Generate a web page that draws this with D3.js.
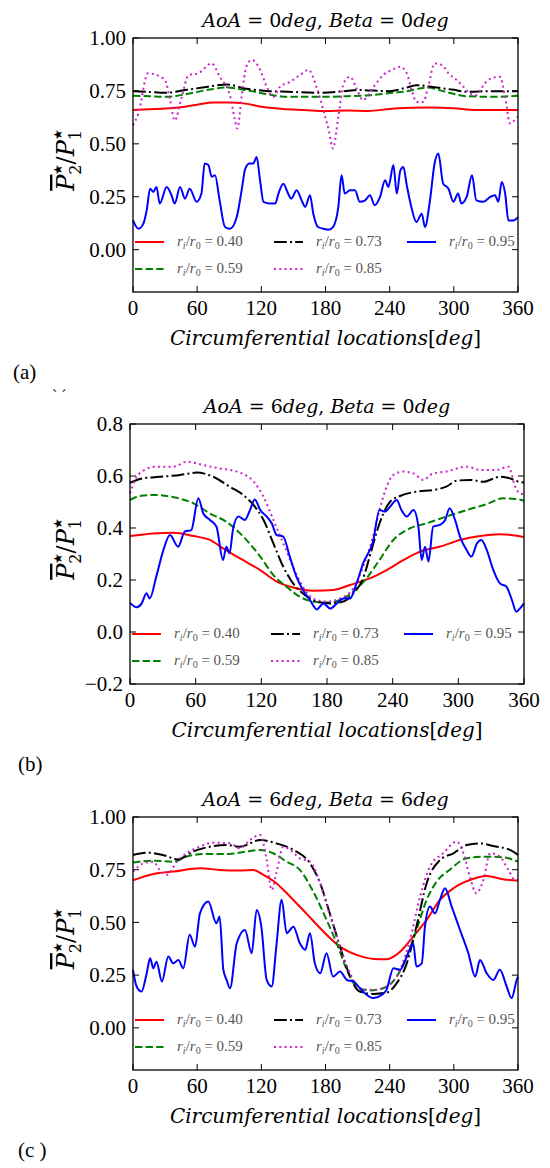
<!DOCTYPE html>
<html>
<head>
<meta charset="utf-8">
<script src="https://cdn.jsdelivr.net/npm/d3@7"></script>
<style>
body { margin: 0; background: #fff; }
</style>
</head>
<body>
<svg id="chart" width="550" height="1168"></svg>
<script>
// circumferential locations on the x axis
let xTicks = [0, 60, 120, 180, 240, 300, 360]
let ratios = ["0.40", "0.59", "0.73", "0.85", "0.95"]
let titlesAoA = ["0", "6", "6"]
let titlesBeta = ["0", "0", "6"]
let panelNames = ["(a)", "(b)", "(c )"]
let yTicksA = [0, 0.25, 0.5, 0.75, 1.0]
let yTickLabelsA = ["0.00", "0.25", "0.50", "0.75", "1.00"]
let yTicksB = [-0.2, 0, 0.2, 0.4, 0.6, 0.8]
let yTickLabelsB = ["\u22120.2", "0.0", "0.2", "0.4", "0.6", "0.8"]

// panel (a) AoA=0, Beta=0 : [deg, P2/P1]
let a040 = [[0,0.66],[20,0.665],[40,0.67],[60,0.685],[75,0.695],[90,0.695],[105,0.69],[120,0.675],[140,0.665],[160,0.66],[180,0.655],[200,0.658],[220,0.655],[240,0.665],[260,0.67],[280,0.672],[300,0.668],[320,0.66],[340,0.66],[360,0.66]]
let a059 = [[0,0.727],[15,0.725],[30,0.722],[50,0.735],[70,0.755],[88,0.766],[105,0.754],[125,0.735],[145,0.722],[175,0.722],[200,0.725],[222,0.73],[240,0.74],[253,0.746],[275,0.766],[293,0.745],[312,0.725],[335,0.722],[360,0.727]]
let a073 = [[0,0.749],[15,0.745],[30,0.741],[50,0.755],[70,0.77],[88,0.78],[106,0.76],[125,0.75],[145,0.746],[175,0.741],[200,0.75],[210,0.754],[240,0.749],[255,0.765],[265,0.777],[284,0.766],[300,0.755],[312,0.746],[335,0.749],[360,0.749]]
let a085 = [[0,0.588],[5,0.643],[14,0.833],[22,0.825],[30,0.80],[35,0.70],[39,0.61],[45.5,0.72],[52,0.825],[61,0.833],[73.5,0.88],[81,0.817],[91,0.722],[95,0.62],[97.5,0.572],[101.6,0.722],[106,0.864],[111,0.896],[119,0.849],[125,0.77],[131,0.722],[137.5,0.77],[147,0.793],[156,0.825],[164,0.849],[172,0.762],[178,0.659],[183,0.565],[187,0.478],[192,0.628],[197,0.786],[203,0.817],[209,0.762],[215,0.707],[225,0.77],[234,0.825],[242,0.849],[250,0.864],[256,0.833],[261,0.746],[265,0.698],[271.5,0.698],[276,0.77],[282,0.88],[289,0.872],[295,0.833],[303,0.80],[309,0.77],[315,0.738],[321,0.73],[329,0.786],[335,0.809],[343,0.817],[348,0.722],[352.5,0.596],[359,0.628]]
let a095 = [[0,0.138],[5,0.099],[9.7,0.123],[12.8,0.186],[16,0.288],[19,0.273],[22,0.296],[25,0.218],[31.5,0.296],[36,0.257],[39,0.218],[44,0.296],[48.6,0.241],[53,0.288],[59.5,0.226],[64,0.265],[67,0.407],[70.5,0.40],[73.6,0.344],[76.7,0.352],[81,0.233],[86,0.107],[90.7,0.099],[97,0.154],[101.6,0.281],[105,0.383],[109,0.407],[112.5,0.407],[115.6,0.438],[118.8,0.328],[122,0.226],[128,0.218],[133,0.218],[136,0.265],[140.6,0.312],[145,0.265],[148,0.241],[153,0.281],[157.7,0.233],[161,0.202],[165.5,0.257],[168.6,0.17],[173,0.107],[178,0.099],[182.7,0.094],[187,0.107],[192,0.202],[195,0.352],[198,0.265],[203,0.281],[207.6,0.281],[212,0.226],[217,0.233],[221.6,0.257],[226,0.21],[231,0.249],[235.7,0.328],[238.8,0.296],[243.5,0.40],[246.6,0.265],[250,0.375],[252.8,0.391],[256,0.304],[260.6,0.194],[265,0.131],[270,0.17],[273,0.107],[277.7,0.233],[282,0.407],[285.5,0.454],[290,0.312],[295,0.288],[299.6,0.226],[304,0.265],[307,0.218],[312,0.249],[317,0.352],[321,0.233],[327.6,0.226],[334,0.249],[338.5,0.257],[341.6,0.226],[344.8,0.32],[348,0.265],[351,0.138],[355.7,0.138],[360,0.154]]

// panel (b) AoA=6, Beta=0
let b040 = [[0,0.369],[21,0.379],[40,0.382],[58,0.369],[73,0.354],[85,0.322],[100.5,0.283],[119,0.238],[134,0.194],[149,0.171],[167.5,0.159],[186,0.162],[201,0.181],[219,0.206],[234.5,0.238],[250,0.277],[265,0.309],[283,0.328],[301.5,0.354],[320,0.369],[338,0.376],[355,0.369],[360,0.365]]
let b059 = [[0,0.508],[9,0.523],[21,0.527],[40,0.518],[58,0.495],[73,0.456],[88,0.424],[103.5,0.367],[119,0.29],[131,0.219],[143,0.174],[155,0.136],[167.5,0.117],[180,0.113],[192,0.123],[204,0.155],[216,0.206],[228,0.277],[240.6,0.354],[256,0.399],[271,0.418],[289,0.444],[307.6,0.469],[326,0.492],[341,0.514],[355,0.51],[360,0.505]]
let b073 = [[0,0.574],[12,0.591],[27,0.597],[46,0.604],[61,0.613],[76,0.597],[91,0.559],[103.5,0.527],[113,0.488],[122,0.431],[131,0.341],[140,0.251],[149,0.187],[160,0.142],[170.6,0.117],[183,0.11],[195,0.117],[204,0.149],[213,0.206],[219,0.29],[225,0.379],[231.5,0.456],[237.6,0.501],[246.7,0.523],[262,0.54],[277,0.546],[289,0.559],[298.5,0.582],[310.7,0.585],[323,0.578],[338,0.597],[347,0.591],[355,0.578],[360,0.575]]
let b085 = [[0,0.533],[4.6,0.585],[12,0.62],[24,0.636],[40,0.636],[52,0.655],[67,0.642],[82,0.629],[97.5,0.617],[113,0.578],[122,0.52],[131,0.431],[140,0.341],[149,0.251],[158,0.174],[167.5,0.129],[180,0.117],[192,0.129],[204,0.168],[213,0.251],[222,0.367],[228,0.469],[234.5,0.559],[240.6,0.604],[250,0.617],[259,0.61],[268,0.585],[277,0.61],[289,0.617],[307.6,0.636],[320,0.623],[335,0.623],[345.7,0.636],[352,0.559],[356,0.533],[360,0.53]]
let b095 = [[0,0.113],[6,0.095],[10.7,0.11],[15,0.149],[18,0.129],[24,0.213],[30.5,0.315],[36.5,0.373],[44,0.328],[50,0.386],[56,0.392],[62.4,0.514],[67,0.456],[73,0.431],[79,0.405],[85,0.277],[88,0.328],[91,0.303],[94,0.392],[99,0.444],[105,0.431],[109.6,0.469],[114,0.51],[119,0.469],[125,0.444],[129.5,0.418],[134,0.373],[140,0.367],[146,0.29],[152,0.213],[158,0.162],[164.5,0.123],[170.6,0.087],[176.7,0.11],[183,0.09],[189,0.11],[195,0.129],[201,0.129],[207,0.187],[213,0.264],[222,0.347],[228,0.469],[233,0.463],[237.6,0.482],[243.7,0.508],[248,0.469],[253,0.444],[259,0.469],[263.5,0.405],[266.5,0.277],[269.6,0.328],[272.7,0.271],[277,0.405],[283,0.412],[288,0.431],[292,0.476],[297,0.431],[301.5,0.367],[307.6,0.315],[312,0.29],[317,0.341],[321,0.354],[326,0.315],[332,0.238],[338,0.187],[344,0.174],[349,0.123],[353,0.078],[356.4,0.091],[360,0.11]]

// panel (c) AoA=6, Beta=6
let c040 = [[0,0.70],[19,0.73],[37.7,0.741],[62.6,0.757],[81,0.749],[100,0.746],[112.5,0.749],[122,0.725],[134,0.686],[147,0.622],[162,0.543],[178,0.457],[193.6,0.385],[209,0.346],[225,0.327],[237,0.325],[250,0.362],[262,0.433],[274.6,0.512],[287,0.607],[299.6,0.662],[315,0.701],[330.7,0.72],[346,0.705],[360,0.698]]
let c059 = [[0,0.784],[19,0.793],[37.7,0.788],[50,0.812],[69,0.825],[90.7,0.825],[106,0.836],[119,0.844],[131,0.828],[143.7,0.788],[156,0.749],[168.6,0.646],[181,0.512],[190.5,0.401],[200,0.275],[209,0.196],[221.6,0.177],[234,0.188],[246.6,0.243],[256,0.338],[265,0.464],[274.6,0.607],[284,0.694],[296,0.749],[312,0.804],[327.6,0.812],[346,0.809],[360,0.788]]
let c073 = [[0,0.82],[12.8,0.831],[28,0.82],[42,0.799],[56,0.836],[72,0.859],[87.6,0.867],[100,0.859],[119,0.891],[134,0.875],[150,0.844],[165.5,0.78],[175,0.686],[184,0.543],[193.6,0.385],[203,0.243],[212,0.172],[224.8,0.161],[237,0.167],[246.6,0.212],[256,0.306],[265,0.48],[274.6,0.686],[287,0.796],[299.6,0.828],[312,0.867],[324.5,0.875],[337,0.862],[352.5,0.844],[360,0.82]]
let c085 = [[0,0.741],[9.7,0.78],[19,0.788],[25,0.749],[31.5,0.725],[41,0.788],[50,0.828],[62.6,0.859],[75,0.878],[90.7,0.875],[100,0.851],[109.4,0.891],[119,0.915],[125,0.796],[129.7,0.654],[134,0.733],[140.6,0.859],[147,0.844],[156,0.804],[165.5,0.788],[175,0.686],[184,0.536],[193.6,0.385],[203,0.259],[212,0.188],[224.8,0.18],[237,0.196],[249.7,0.275],[259,0.417],[268.4,0.622],[277.7,0.765],[290,0.828],[302.7,0.883],[309,0.828],[315,0.717],[321,0.638],[327.6,0.701],[334,0.828],[343,0.812],[351,0.749],[357,0.701],[360,0.70]]
let c095 = [[0,0.275],[3.4,0.196],[8,0.172],[12.8,0.259],[16,0.33],[19,0.283],[22,0.314],[27,0.22],[33,0.338],[37.7,0.306],[42.4,0.322],[47,0.283],[53,0.441],[58,0.385],[62.6,0.543],[70.4,0.599],[78,0.496],[81,0.528],[84.5,0.275],[87.6,0.227],[90.7,0.188],[97,0.401],[104.7,0.464],[111,0.354],[115.6,0.559],[120,0.48],[125,0.227],[129.7,0.196],[134,0.385],[139,0.607],[143.7,0.449],[150,0.48],[156,0.401],[161,0.37],[165.5,0.449],[170,0.306],[175,0.259],[181,0.354],[187,0.243],[193.6,0.267],[200,0.227],[206,0.22],[215,0.172],[224.8,0.141],[232.5,0.156],[237,0.18],[243.5,0.283],[249.7,0.275],[256,0.338],[262,0.401],[265,0.291],[270,0.306],[273,0.48],[277.7,0.575],[282.4,0.543],[287,0.607],[291.8,0.662],[298,0.575],[305.8,0.464],[313.6,0.354],[320,0.243],[324.5,0.322],[330.7,0.259],[337,0.227],[343,0.275],[349.4,0.196],[354,0.141],[358.8,0.227],[360,0.243]]

let colors = ["#ff0000", "#008000", "#000000", "#cc22cc", "#0000ff"]
let dashes = [null, "7.4,3.2", "12.8,3.2,2,3.2", "2,3.3", null]

var panels = [
    { left: 133, right: 518, top: 38, bottom: 292, ymin: -0.2, ymax: 1.0, ticks: yTicksA, tickLabels: yTickLabelsA, series: [a040, a059, a073, a085, a095] },
    { left: 130, right: 524, top: 424, bottom: 684, ymin: -0.2, ymax: 0.8, ticks: yTicksB, tickLabels: yTickLabelsB, series: [b040, b059, b073, b085, b095] },
    { left: 133, right: 518, top: 817, bottom: 1070, ymin: -0.2, ymax: 1.0, ticks: yTicksA, tickLabels: yTickLabelsA, series: [c040, c059, c073, c085, c095] }
]

let serif = "'Liberation Serif', 'DejaVu Serif', serif"
let mathFont = "'DejaVu Serif', serif"
var svg = d3.select("#chart")

// mixed italic / upright text, parts = [[text, italic], ...]
function mathText(sel, parts) {
    for (let p of parts) {
        sel.append("tspan").text(p[0]).style("font-style", p[1] ? "italic" : "normal")
    }
    return sel
}

function legendLabel(sel, r) {
    sel.append("tspan").text("r").style("font-style", "italic")
    sel.append("tspan").text("i").style("font-style", "italic").attr("font-size", 10).attr("dy", 3)
    sel.append("tspan").text("/").attr("dy", -3)
    sel.append("tspan").text("r").style("font-style", "italic")
    sel.append("tspan").text("0").attr("font-size", 10).attr("dy", 3)
    sel.append("tspan").text(" = " + r).attr("dy", -3)
}

panels.forEach((p, k) => {
    var g = svg.append("g")
    var x = d3.scaleLinear().domain([0, 360]).range([p.left, p.right])
    var y = d3.scaleLinear().domain([p.ymin, p.ymax]).range([p.bottom, p.top])

    var line = d3.line()
        .x((d) => x(d[0]))
        .y((d) => y(d[1]))
        .curve(d3.curveMonotoneX)

    p.series.forEach((s, i) => {
        g.append("path")
            .datum(s)
            .attr("d", line)
            .attr("fill", "none")
            .attr("stroke", colors[i])
            .attr("stroke-width", 2)
            .attr("stroke-dasharray", dashes[i])
    })

    // ticks inside on all four sides
    var tl = 6
    g.selectAll(".xt").data(xTicks).enter().append("path")
        .attr("d", (d) => `M ${x(d)} ${p.bottom} V ${p.bottom - tl} M ${x(d)} ${p.top} V ${p.top + tl}`)
        .attr("stroke", "#000").attr("stroke-width", 1)
    g.selectAll(".yt").data(p.ticks).enter().append("path")
        .attr("d", (d) => `M ${p.left} ${y(d)} H ${p.left + tl} M ${p.right} ${y(d)} H ${p.right - tl}`)
        .attr("stroke", "#000").attr("stroke-width", 1)

    g.append("rect")
        .attr("x", p.left).attr("y", p.top)
        .attr("width", p.right - p.left).attr("height", p.bottom - p.top)
        .attr("fill", "none").attr("stroke", "#000").attr("stroke-width", 1.3)

    g.selectAll(".xl").data(xTicks).enter().append("text")
        .attr("x", (d) => x(d)).attr("y", p.bottom + 23)
        .attr("text-anchor", "middle")
        .style("font-family", serif).style("font-size", "21px")
        .text((d) => d)
    g.selectAll(".yl").data(p.ticks).enter().append("text")
        .attr("x", p.left - 7).attr("y", (d) => y(d)).attr("dy", "0.35em")
        .attr("text-anchor", "end")
        .style("font-family", serif).style("font-size", "21px")
        .text((d, i) => p.tickLabels[i])

    // legend, 3 columns
    var cols = [0, 139, 272]
    var rows = [p.bottom - 50, p.bottom - 23]
    ratios.forEach((r, i) => {
        var cx = p.left + cols[Math.floor(i / 2)]
        var cy = rows[i % 2]
        g.append("line")
            .attr("x1", cx + 2).attr("x2", cx + 31)
            .attr("y1", cy).attr("y2", cy)
            .attr("stroke", colors[i]).attr("stroke-width", 2)
            .attr("stroke-dasharray", dashes[i])
        var t = g.append("text")
            .attr("x", cx + 44).attr("y", cy + 4)
            .style("font-family", serif).style("font-size", "15px")
            .attr("fill", "#555")
        legendLabel(t, r)
    })

    var cxm = (p.left + p.right) / 2
    var title = g.append("text")
        .attr("x", cxm).attr("y", p.top - 11)
        .attr("text-anchor", "middle")
        .style("font-family", mathFont).style("font-size", "19px")
    mathText(title, [["AoA", true], [" = " + titlesAoA[k], false], ["deg", true], [", ", false], ["Beta", true], [" = " + titlesBeta[k], false], ["deg", true]])

    var xlab = g.append("text")
        .attr("x", cxm).attr("y", p.bottom + 53)
        .attr("text-anchor", "middle")
        .style("font-family", mathFont).style("font-size", "20px")
    mathText(xlab, [["Circumferential locations", true], ["[", false], ["deg", true], ["]", false]])

    // y label, rotated
    var ylab = g.append("text")
        .attr("transform", "translate(" + 74 + "," + ((p.top + p.bottom) / 2 - 5) + ") rotate(-90)")
        .attr("text-anchor", "middle")
        .style("font-family", mathFont).style("font-size", "24px")
    ylab.append("tspan").text("P").style("font-style", "italic").style("text-decoration", "overline")
    ylab.append("tspan").text("\u2605").attr("font-size", 12).attr("dy", -12)
    ylab.append("tspan").text("2").attr("font-size", 16).attr("dx", -11).attr("dy", 19)
    ylab.append("tspan").text("/").attr("dy", -7)
    ylab.append("tspan").text("P").style("font-style", "italic")
    ylab.append("tspan").text("\u2605").attr("font-size", 12).attr("dy", -12)
    ylab.append("tspan").text("1").attr("font-size", 16).attr("dx", -11).attr("dy", 19)

    g.append("text")
        .attr("x", k == 0 ? 13 : 18).attr("y", p.bottom + 87)
        .style("font-family", serif).style("font-size", "21px")
        .text(panelNames[k])
})

// small stray marks left of panel (b) title
svg.append("text")
    .attr("x", 52).attr("y", 401)
    .style("font-family", serif).style("font-size", "16px")
    .text("` \u00b4")
</script>
</body>
</html>
